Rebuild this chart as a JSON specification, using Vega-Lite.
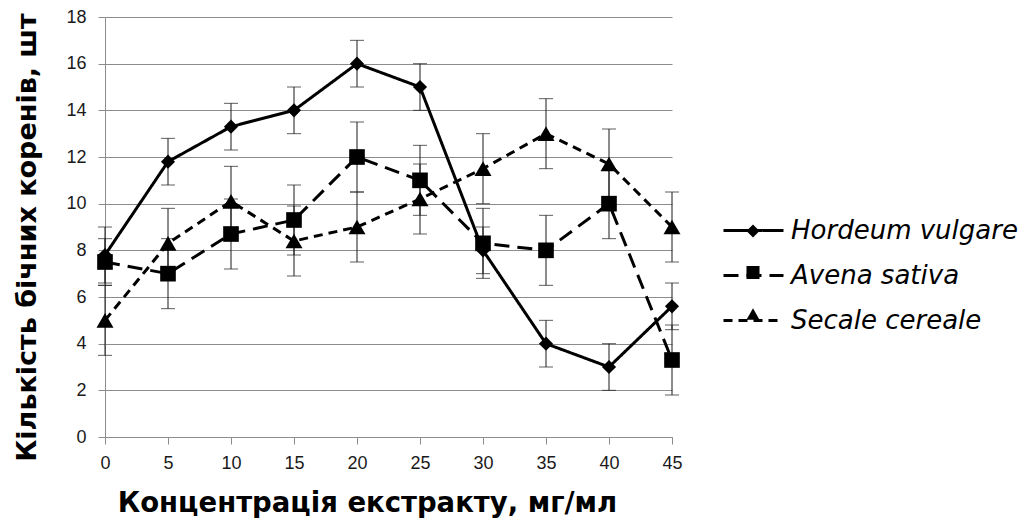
{
 "$schema": "https://vega.github.io/schema/vega-lite/v6.json",
 "width": 567, "height": 420,
 "autosize": "none",
 "padding": {"left": 105, "top": 17, "right": 356, "bottom": 88},
 "background": "white",
 "config": {"view": {"stroke": null}, "font": "Liberation Sans"},
 "data": {"values": [
  {"conc": "0", "series": "Hordeum vulgare", "value": 7.8, "lo": 6.6, "hi": 9.0},
  {"conc": "5", "series": "Hordeum vulgare", "value": 11.8, "lo": 10.8, "hi": 12.8},
  {"conc": "10", "series": "Hordeum vulgare", "value": 13.3, "lo": 12.3, "hi": 14.3},
  {"conc": "15", "series": "Hordeum vulgare", "value": 14.0, "lo": 13.0, "hi": 15.0},
  {"conc": "20", "series": "Hordeum vulgare", "value": 16.0, "lo": 15.0, "hi": 17.0},
  {"conc": "25", "series": "Hordeum vulgare", "value": 15.0, "lo": 14.0, "hi": 16.0},
  {"conc": "30", "series": "Hordeum vulgare", "value": 8.0, "lo": 7.0, "hi": 9.0},
  {"conc": "35", "series": "Hordeum vulgare", "value": 4.0, "lo": 3.0, "hi": 5.0},
  {"conc": "40", "series": "Hordeum vulgare", "value": 3.0, "lo": 2.0, "hi": 4.0},
  {"conc": "45", "series": "Hordeum vulgare", "value": 5.6, "lo": 4.6, "hi": 6.6},
  {"conc": "0", "series": "Avena sativa", "value": 7.5, "lo": 6.5, "hi": 8.5},
  {"conc": "5", "series": "Avena sativa", "value": 7.0, "lo": 5.5, "hi": 8.5},
  {"conc": "10", "series": "Avena sativa", "value": 8.7, "lo": 7.2, "hi": 10.2},
  {"conc": "15", "series": "Avena sativa", "value": 9.3, "lo": 7.8, "hi": 10.8},
  {"conc": "20", "series": "Avena sativa", "value": 12.0, "lo": 10.5, "hi": 13.5},
  {"conc": "25", "series": "Avena sativa", "value": 11.0, "lo": 9.5, "hi": 12.5},
  {"conc": "30", "series": "Avena sativa", "value": 8.3, "lo": 6.8, "hi": 9.8},
  {"conc": "35", "series": "Avena sativa", "value": 8.0, "lo": 6.5, "hi": 9.5},
  {"conc": "40", "series": "Avena sativa", "value": 10.0, "lo": 8.5, "hi": 11.5},
  {"conc": "45", "series": "Avena sativa", "value": 3.3, "lo": 1.8, "hi": 4.8},
  {"conc": "0", "series": "Secale cereale", "value": 5.0, "lo": 3.5, "hi": 6.5},
  {"conc": "5", "series": "Secale cereale", "value": 8.3, "lo": 6.8, "hi": 9.8},
  {"conc": "10", "series": "Secale cereale", "value": 10.1, "lo": 8.6, "hi": 11.6},
  {"conc": "15", "series": "Secale cereale", "value": 8.4, "lo": 6.9, "hi": 9.9},
  {"conc": "20", "series": "Secale cereale", "value": 9.0, "lo": 7.5, "hi": 10.5},
  {"conc": "25", "series": "Secale cereale", "value": 10.2, "lo": 8.7, "hi": 11.7},
  {"conc": "30", "series": "Secale cereale", "value": 11.5, "lo": 10.0, "hi": 13.0},
  {"conc": "35", "series": "Secale cereale", "value": 13.0, "lo": 11.5, "hi": 14.5},
  {"conc": "40", "series": "Secale cereale", "value": 11.7, "lo": 10.2, "hi": 13.2},
  {"conc": "45", "series": "Secale cereale", "value": 9.0, "lo": 7.5, "hi": 10.5}
 ]},
 "encoding": {
  "x": {"field": "conc", "type": "ordinal", "sort": null,
   "scale": {"type": "point", "padding": 0},
   "axis": {"labelAngle": 0, "grid": false, "domainColor": "#8c8c8c", "tickColor": "#8c8c8c", "tickSize": 7,
    "labelFontSize": 18, "labelColor": "#1a1a1a", "labelPadding": 10,
    "titleFont": "DejaVu Sans", "titleFontSize": 27.5, "titleFontWeight": "bold", "titleColor": "black", "titlePadding": 17, "titleX": 262},
   "title": "Концентрація екстракту, мг/мл"}
 },
 "layer": [
  {"mark": {"type": "rule", "color": "#1a1a1a", "strokeWidth": 1},
   "encoding": {
    "y": {"field": "lo", "type": "quantitative", "scale": {"domain": [0, 18]}, "title": "Кількість бічних коренів, шт",
     "axis": {"values": [0, 2, 4, 6, 8, 10, 12, 14, 16, 18], "grid": true, "gridColor": "#8c8c8c", "domainColor": "#8c8c8c", "tickColor": "#8c8c8c", "tickSize": 7,
      "labelFontSize": 18, "labelColor": "#1a1a1a", "labelPadding": 12,
      "titleFont": "DejaVu Sans", "titleFontSize": 27, "titleFontWeight": "bold", "titleColor": "black", "titlePadding": 24, "titleY": 220}},
    "y2": {"field": "hi"}}},
  {"mark": {"type": "tick", "color": "#1a1a1a", "size": 14, "thickness": 1},
   "encoding": {"y": {"field": "lo", "type": "quantitative", "title": "Кількість бічних коренів, шт"}}},
  {"mark": {"type": "tick", "color": "#1a1a1a", "size": 14, "thickness": 1},
   "encoding": {"y": {"field": "hi", "type": "quantitative", "title": "Кількість бічних коренів, шт"}}},
  {"mark": {"type": "line", "strokeWidth": 3, "color": "black"},
   "encoding": {
    "y": {"field": "value", "type": "quantitative", "title": "Кількість бічних коренів, шт"},
    "strokeDash": {"field": "series", "type": "nominal",
     "scale": {"domain": ["Hordeum vulgare", "Avena sativa", "Secale cereale"], "range": [[1, 0], [15, 8], [9, 6]]},
     "legend": {"title": null, "orient": "none", "legendX": 617, "legendY": 182, "padding": 0,
      "symbolType": "stroke", "symbolSize": 3600, "symbolStrokeWidth": 3, "symbolStrokeColor": "black",
      "labelFont": "DejaVu Sans", "labelFontSize": 26, "labelFontStyle": "italic", "labelColor": "black",
      "labelOffset": 6, "rowPadding": -22, "labelLimit": 400}}}},
  {"mark": {"type": "point", "filled": true, "color": "black", "opacity": 1},
   "encoding": {
    "y": {"field": "value", "type": "quantitative", "title": "Кількість бічних коренів, шт"},
    "shape": {"field": "series", "type": "nominal", "sort": ["Hordeum vulgare", "Avena sativa", "Secale cereale"],
     "scale": {"range": ["diamond", "square", "triangle-up"]},
     "legend": {"title": null, "orient": "none", "legendX": 641, "legendY": 207, "padding": 0,
      "symbolSize": 170, "symbolFillColor": "black", "symbolStrokeWidth": 0,
      "labelFontSize": 1, "labelOpacity": 0, "labelOffset": 0, "labelLimit": 5, "rowPadding": 27.5}},
    "size": {"field": "series", "type": "nominal", "sort": ["Hordeum vulgare", "Avena sativa", "Secale cereale"],
     "scale": {"range": [200, 290, 230]}, "legend": null}}}
 ]
}
